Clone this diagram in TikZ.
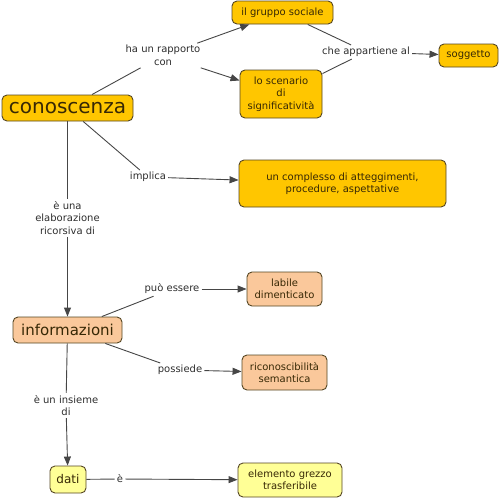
\documentclass[tikz,border=0pt]{standalone}
\usepackage{fontspec}
\setmainfont{DejaVu Sans}
\usetikzlibrary{arrows,arrows.meta,shapes}

\definecolor{gold}{RGB}{255,198,0}
\definecolor{peach}{RGB}{250,200,155}
\definecolor{paleyellow}{RGB}{255,255,150}
\definecolor{boxline}{RGB}{85,70,35}
\definecolor{boxtext}{RGB}{55,40,5}
\definecolor{linktext}{RGB}{45,45,45}
\definecolor{linkline}{RGB}{70,70,70}

\begin{document}
\begin{tikzpicture}[x=1pt,y=-1pt]
    \tikzstyle{concept}=[rectangle,rounded corners=5pt,draw=boxline,line width=0.9pt,text=boxtext,align=center,inner sep=2pt,font=\fontsize{10}{12.5}\selectfont]
    \tikzstyle{oro}=[concept,fill=gold]
    \tikzstyle{pesca}=[concept,fill=peach]
    \tikzstyle{giallo}=[concept,fill=paleyellow]
    \tikzstyle{link}=[align=center,text=linktext,inner sep=2pt,font=\fontsize{10}{12.5}\selectfont]
    \tikzstyle{linea}=[draw=linkline,line width=0.9pt]
    \tikzstyle{freccia}=[linea,-{Triangle[length=9pt,width=7pt]}]
    \useasboundingbox (0,0) rectangle (500,499);
    % concetti
    \node[oro,minimum width=131pt,minimum height=26pt,font=\fontsize{20}{22}\selectfont] (conoscenza) at (67.5,108) {conoscenza};
    \node[oro,minimum width=101pt,minimum height=23pt] (gruppo) at (282.5,12.5) {il gruppo sociale};
    \node[oro,minimum width=82pt,minimum height=48pt] (scenario) at (281,94) {lo scenario\\di\\significatività};
    \node[oro,minimum width=59pt,minimum height=23pt] (soggetto) at (468.5,55.5) {soggetto};
    \node[oro,minimum width=207pt,minimum height=47pt] (complesso) at (342.5,183.5) {un complesso di atteggimenti,\\procedure, aspettative};
    \node[pesca,minimum width=109pt,minimum height=26pt,font=\fontsize{15}{17}\selectfont] (informazioni) at (67.5,330) {informazioni};
    \node[pesca,minimum width=75pt,minimum height=34pt] (labile) at (284.5,289) {labile\\dimenticato};
    \node[pesca,minimum width=85pt,minimum height=35pt] (ricon) at (284.5,372.5) {riconoscibilità\\semantica};
    \node[giallo,minimum width=36pt,minimum height=27pt,font=\fontsize{12}{14}\selectfont] (dati) at (68,479.5) {dati};
    \node[giallo,minimum width=104pt,minimum height=34pt] (elemento) at (290,480) {elemento grezzo\\trasferibile};
    % frasi legame
    \node[link] (rapporto) at (163,55.5) {ha un rapporto\\con};
    \node[link] (appartiene) at (366,52) {che appartiene al};
    \node[link] (implica) at (148,177) {implica};
    \node[link] (elabora) at (67.5,218) {è una\\elaborazione\\ricorsiva di};
    \node[link] (puo) at (172,289) {può essere};
    \node[link] (possiede) at (180,370) {possiede};
    \node[link] (insieme) at (66,405.5) {è un insieme\\di};
    \node[link] (e) at (120,479) {è};
    % connessioni
    \draw[linea] (conoscenza) -- (rapporto);
    \draw[freccia] (rapporto) -- (gruppo);
    \draw[freccia] (rapporto) -- (scenario);
    \draw[linea] (gruppo) -- (appartiene);
    \draw[linea] (scenario) -- (appartiene);
    \draw[freccia] (appartiene) -- (soggetto);
    \draw[linea] (conoscenza) -- (implica);
    \draw[freccia] (implica) -- (complesso);
    \draw[linea] (conoscenza) -- (elabora);
    \draw[freccia] (elabora) -- (informazioni);
    \draw[linea] (informazioni) -- (puo);
    \draw[freccia] (puo) -- (labile);
    \draw[linea] (informazioni) -- (possiede);
    \draw[freccia] (possiede) -- (ricon);
    \draw[linea] (informazioni) -- (insieme);
    \draw[freccia] (insieme) -- (dati);
    \draw[linea] (dati) -- (e);
    \draw[freccia] (e) -- (elemento);
\end{tikzpicture}
\end{document}
